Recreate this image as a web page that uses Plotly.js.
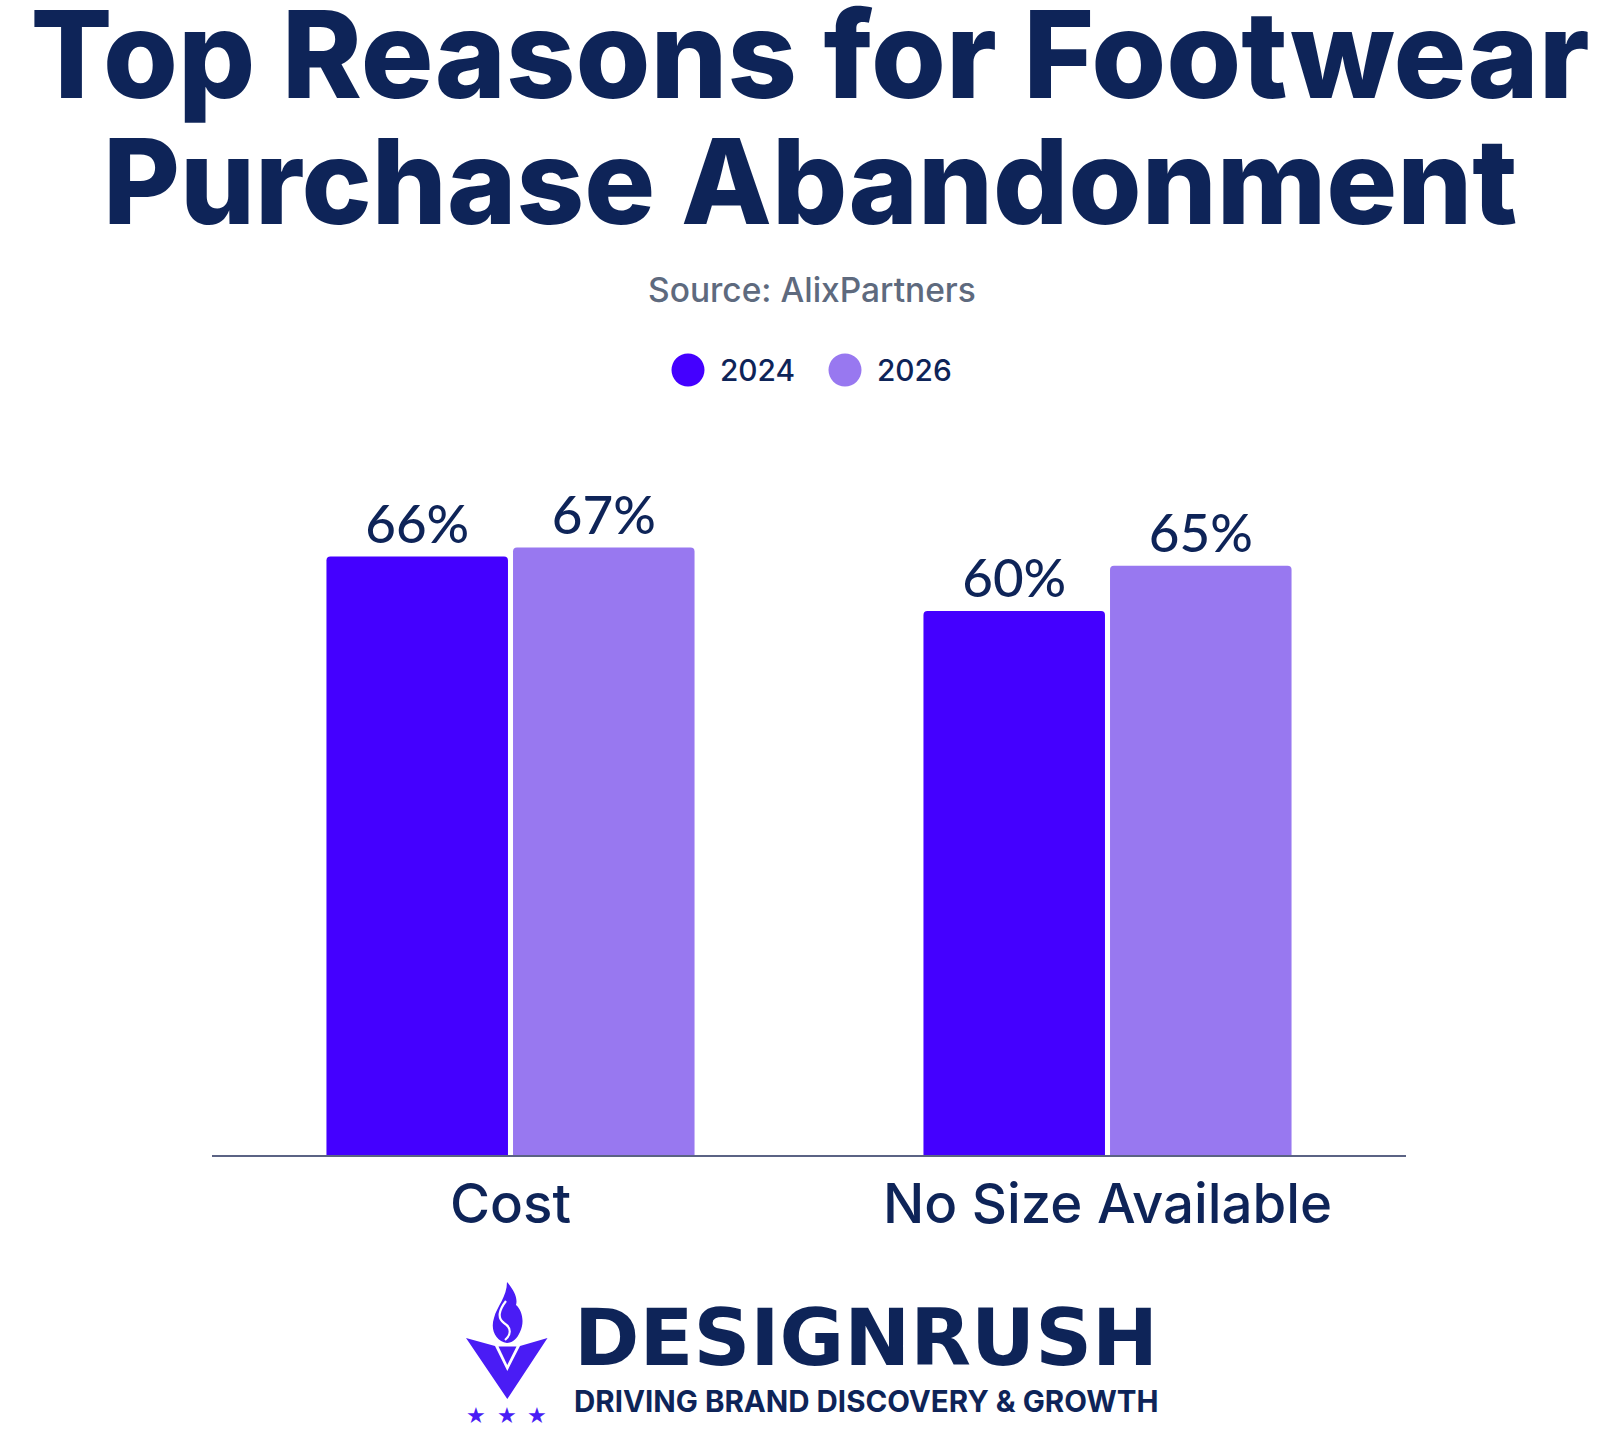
<!DOCTYPE html>
<html>
<head>
<meta charset="utf-8">
<script src="https://cdn.plot.ly/plotly-3.0.1.min.js"></script>
<style>
  html, body { margin: 0; padding: 0; background: #ffffff; }
  #chart { width: 1620px; height: 1434px; }
</style>
</head>
<body>
<div id="chart"></div>
<script>
// ---- data ----
const categories = ["Cost", "No Size Available"];
const seriesNames = ["2024", "2026"];
const values2024 = [66, 60];
const values2026 = [67, 65];
const seriesColors = ["#4400ff", "#9878f0"];
const titleLines = ["Top Reasons for Footwear", "Purchase Abandonment"];
const subtitle = "Source: AlixPartners";
const brandName = "DESIGNRUSH";
const brandTagline = "DRIVING BRAND DISCOVERY & GROWTH";

// ---- geometry helpers (layout only) ----
const W = 1620, H = 1434;
const L = 212, R = 1406, T = 475, B = 1155;
const xp = px => (px - L) / (R - L);
const yp = py => (B - py) / (B - T);
const NAVY = "#0e2458";
const FONT = "Inter, Lato, sans-serif";
const LABEL_FONT = "Lato, Inter, sans-serif";
const BRAND_FONT = "'DejaVu Sans', Inter, sans-serif";

// font size that makes a text a given pixel width
const ctx = document.createElement("canvas").getContext("2d");
function fit(text, weight, width, family) {
  ctx.font = weight + " 100px " + (family || FONT);
  return Math.round(100 * width / ctx.measureText(text).width * 10) / 10;
}

function pathFrom(points, close) {
  let s = "";
  points.forEach((p, i) => {
    if (p[0] === "C") {
      s += " C " + xp(p[1]) + "," + yp(p[2]) + " " + xp(p[3]) + "," + yp(p[4]) + " " + xp(p[5]) + "," + yp(p[6]);
    } else {
      s += (i === 0 ? "M " : " L ") + xp(p[0]) + "," + yp(p[1]);
    }
  });
  return s + (close ? " Z" : "");
}

const titleSize1 = Math.min(fit(titleLines[0], 800, 1560), 126);
const titleSize2 = Math.min(fit(titleLines[1], 800, 1415), 126);
const labelSize = Math.min(fit("66%", 500, 104, LABEL_FONT), 60);
const tickSize = Math.min(fit(categories[1], 500, 449), 62);

const values = [values2024, values2026];
const traces = seriesNames.map((name, i) => ({
  type: "bar",
  name: name,
  x: categories,
  y: values[i],
  marker: { color: seriesColors[i] },
  text: values[i].map(v => v + "%"),
  textposition: "outside",
  textfont: { family: LABEL_FONT, size: labelSize, color: NAVY, weight: 500 },
  cliponaxis: false,
  showlegend: false,
  hoverinfo: "skip"
}));

// legend built from series names / colours
const legendCircleX = [688, 845];
const legendY = 370;
const legendSize = Math.min(fit("2024", 500, 75), 34);
const shapes = [];
const annotations = [];
seriesNames.forEach((name, i) => {
  const cx = legendCircleX[i], r = 16.5;
  shapes.push({
    type: "circle", xref: "paper", yref: "paper",
    x0: xp(cx - r), x1: xp(cx + r), y0: yp(legendY + r), y1: yp(legendY - r),
    fillcolor: seriesColors[i], line: { width: 0 }
  });
  annotations.push({
    xref: "paper", yref: "paper", x: xp(cx + 30), y: yp(legendY),
    xanchor: "left", yanchor: "middle", showarrow: false,
    text: name, font: { family: FONT, size: legendSize, color: NAVY, weight: 500 }
  });
});

// title line 2 and subtitle
annotations.push({
  xref: "paper", yref: "paper", x: xp(810), y: yp(181),
  xanchor: "center", yanchor: "middle", showarrow: false,
  text: titleLines[1], font: { family: FONT, size: titleSize2, color: NAVY, weight: 800 }
});
annotations.push({
  xref: "paper", yref: "paper", x: xp(812), y: yp(290),
  xanchor: "center", yanchor: "middle", showarrow: false,
  text: subtitle, font: { family: FONT, size: Math.min(fit(subtitle, 500, 328), 36), color: "#5e6a7e", weight: 500 }
});

// brand block
annotations.push({
  xref: "paper", yref: "paper", x: xp(572), y: yp(1338),
  xanchor: "left", yanchor: "middle", showarrow: false,
  text: brandName, font: { family: BRAND_FONT, size: Math.min(fit(brandName, 700, 584, BRAND_FONT), 82), color: NAVY, weight: 700 }
});
annotations.push({
  xref: "paper", yref: "paper", x: xp(572), y: yp(1401),
  xanchor: "left", yanchor: "middle", showarrow: false,
  text: brandTagline, font: { family: FONT, size: Math.min(fit(brandTagline, 700, 584), 32), color: NAVY, weight: 700 }
});
[476, 507, 537].forEach(sx => annotations.push({
  xref: "paper", yref: "paper", x: xp(sx), y: yp(1415),
  xanchor: "center", yanchor: "middle", showarrow: false,
  text: "★", font: { family: "DejaVu Sans", size: 22, color: "#4a1cf5" }
}));

// logo icon
const ICON = "#4a1cf5";
shapes.push({
  type: "path", xref: "paper", yref: "paper", fillcolor: ICON, line: { width: 0 },
  path: pathFrom([[466, 1338], [495, 1346], [507.3, 1371], [520, 1346], [547.5, 1338], [507.3, 1399]], true)
});
shapes.push({
  type: "path", xref: "paper", yref: "paper", fillcolor: ICON, line: { width: 0 },
  path: pathFrom([[498.5, 1346.5], [516.5, 1346.5], [507.3, 1365]], true)
});
shapes.push({
  type: "path", xref: "paper", yref: "paper", fillcolor: ICON, line: { width: 0 },
  path: pathFrom([[507, 1343], ["C", 496, 1341, 490, 1330, 494, 1318], ["C", 497, 1306, 507, 1297, 507, 1282],
    ["C", 514, 1290, 518, 1298, 516, 1305], ["C", 522, 1310, 525, 1322, 520, 1332], ["C", 517, 1339, 512, 1343, 507, 1343]], true)
});
shapes.push({
  type: "path", xref: "paper", yref: "paper", line: { color: "#ffffff", width: 2.2 },
  path: pathFrom([[506, 1301], ["C", 499, 1310, 497, 1318, 504, 1323], ["C", 512, 1328, 511, 1335, 505, 1340]], false)
});

const layout = {
  width: W, height: H,
  margin: { l: L, r: W - R, t: T, b: H - B, pad: 0 },
  paper_bgcolor: "#ffffff", plot_bgcolor: "#ffffff",
  title: {
    text: titleLines[0], x: 0.5, xanchor: "center",
    y: 1 - 56 / H, yanchor: "middle",
    font: { family: FONT, size: titleSize1, color: NAVY, weight: 800 }
  },
  barmode: "group",
  bargap: 0.375,
  bargroupgap: 0.027,
  barcornerradius: 4,
  showlegend: false,
  xaxis: {
    type: "category", range: [-0.5, 1.5],
    showline: true, linecolor: "#5b6384", linewidth: 2,
    showgrid: false, zeroline: false, ticks: "",
    tickfont: { family: FONT, size: tickSize, color: NAVY, weight: 500 },
    ticklabelstandoff: 0, fixedrange: true
  },
  yaxis: {
    range: [0, 75], visible: false, showgrid: false, zeroline: false, fixedrange: true
  },
  shapes: shapes,
  annotations: annotations,
  font: { family: FONT, color: NAVY }
};

Plotly.newPlot("chart", traces, layout, { displayModeBar: false, staticPlot: true });
</script>
</body>
</html>
